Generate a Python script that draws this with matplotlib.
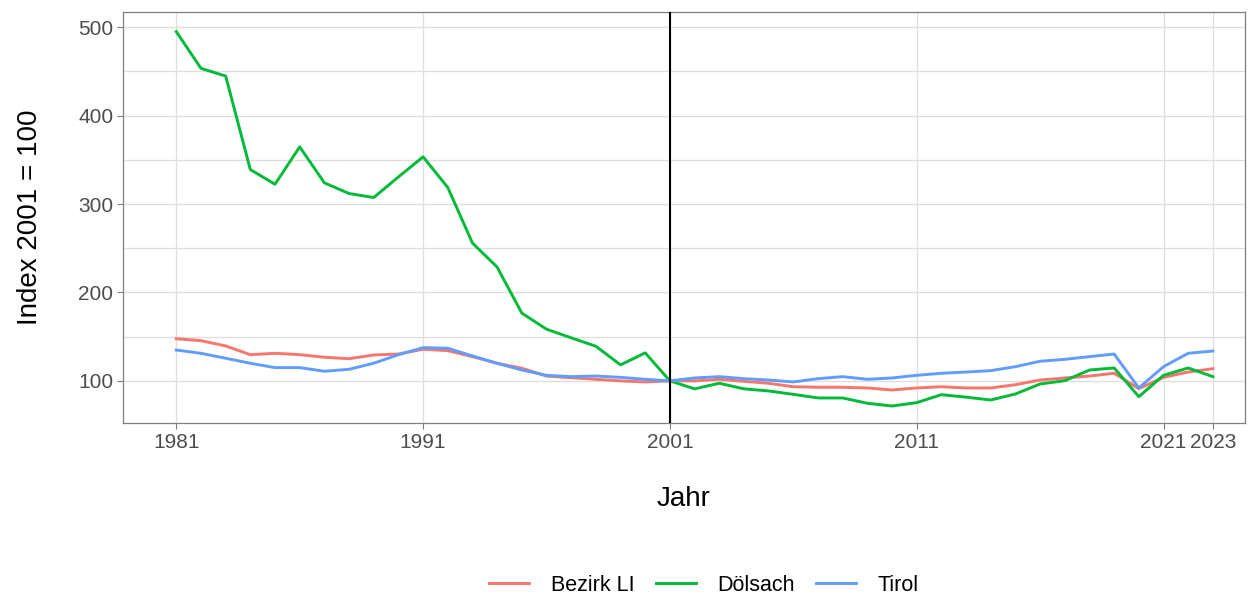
import matplotlib.pyplot as plt
import numpy as np

plt.rcParams['font.family'] = ['Liberation Sans', 'DejaVu Sans']

years = list(range(1981, 2024))

bezirk_li = [147.7, 145.5, 139.5, 129.6, 131.2, 129.7, 126.7, 125.1, 129.3, 130.4,
             135.8, 134.2, 127.4, 119.9, 114.3, 105.5, 103.6, 101.8, 100.0, 98.8,
             100.0, 100.0, 101.8, 99.5, 97.3, 93.4, 92.8, 92.8, 92.0, 89.7,
             92.0, 93.4, 92.0, 92.0, 95.7, 101.0, 103.3, 105.5, 108.6, 91.2,
             104.0, 110.0, 113.8]

doelsach = [495.0, 453.5, 444.8, 339.0, 322.4, 364.7, 324.0, 311.9, 307.4, 330.7,
            353.4, 318.7, 255.9, 228.7, 176.6, 158.5, 148.7, 139.2, 118.1, 131.7,
            100.0, 91.0, 97.3, 91.0, 88.6, 84.8, 80.7, 80.7, 74.7, 71.6,
            75.4, 84.4, 81.6, 78.4, 85.2, 96.5, 100.2, 112.3, 114.6, 82.2,
            106.3, 114.6, 104.8]

tirol = [134.9, 131.2, 125.6, 119.9, 115.0, 115.0, 110.9, 113.1, 120.0, 129.6,
         137.6, 136.9, 128.2, 119.9, 112.3, 106.3, 104.8, 105.5, 104.0, 101.8,
         100.0, 103.3, 104.8, 102.5, 101.0, 98.8, 102.5, 104.8, 101.8, 103.3,
         106.3, 108.6, 110.0, 111.6, 116.1, 122.2, 124.4, 127.4, 130.4, 92.0,
         116.1, 131.2, 133.8]

series = [('Bezirk LI', bezirk_li, '#F8766D'),
          ('Dölsach', doelsach, '#00BA38'),
          ('Tirol', tirol, '#619CFF')]

x_ticks = [1981, 1991, 2001, 2011, 2021, 2023]
y_ticks = [100, 200, 300, 400, 500]

fig = plt.figure(figsize=(12.55, 5.97), dpi=100)
ax = fig.add_axes([0.098, 0.2915, 0.894, 0.6885])

for name, vals, col in series:
    ax.plot(years, vals, color=col, lw=2.1, label=name, solid_joinstyle='round')

ax.axvline(2001, color='black', lw=1.5, zorder=3)

ax.set_xlim(1978.84, 2024.3)
ax.set_ylim(52.4, 517.3)
ax.set_xticks(x_ticks)
ax.set_yticks(y_ticks)
ax.set_yticks([150, 250, 350, 450], minor=True)
ax.grid(True, which='major', color='#dedede', lw=0.9)
ax.grid(True, which='minor', axis='y', color='#dedede', lw=0.9)
ax.set_axisbelow(True)
ax.tick_params(which='minor', length=0)
ax.tick_params(which='major', length=4, color='#7f7f7f', labelsize=15,
               labelcolor='#4d4d4d', pad=3)
for s in ax.spines.values():
    s.set_color('#7f7f7f')
    s.set_linewidth(0.9)

ax.set_xlabel('Jahr', fontsize=20, labelpad=25)
ax.set_ylabel('Index 2001 = 100', fontsize=20, labelpad=25)

fig.legend(loc='lower center', bbox_to_anchor=(0.561, -0.03), ncol=3,
           frameon=False, fontsize=15.5, handlelength=1.85, columnspacing=1.0,
           handletextpad=1.0)

fig.savefig('out.png', dpi=100)
